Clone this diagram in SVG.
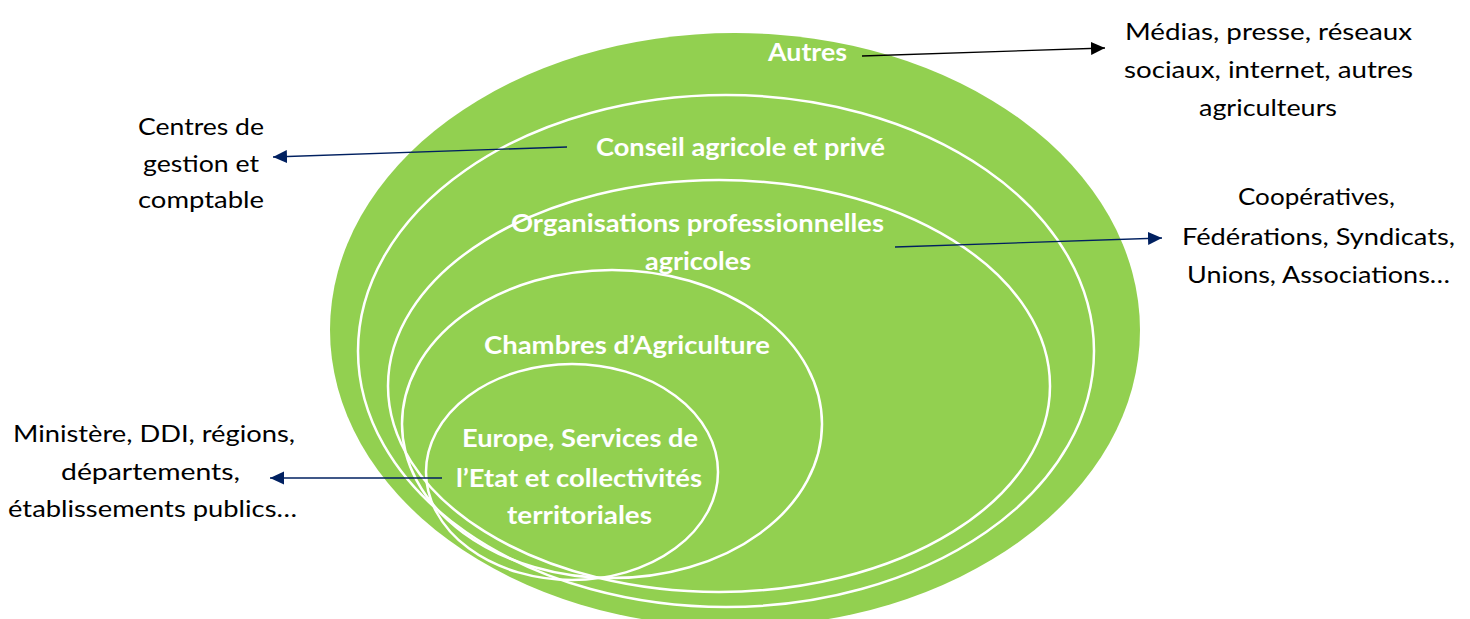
<svg xmlns="http://www.w3.org/2000/svg" width="1470" height="619" viewBox="0 0 1470 619">
<style>
.lbl{font-family:Lato,"Open Sans","Liberation Sans",sans-serif;font-size:24px;fill:#000;text-anchor:middle}
.in{font-family:Lato,"Open Sans","Liberation Sans",sans-serif;font-size:24px;font-weight:bold;fill:#fff;text-anchor:middle}
.ring{fill:none;stroke:#fff;stroke-width:2.5}
.con{fill:none;stroke-width:1.3}
</style>
<defs>
<marker id="ahNavy" markerUnits="userSpaceOnUse" markerWidth="16" markerHeight="14" refX="14" refY="6.5" orient="auto">
<path d="M0,0 L14,6.5 L0,13 Z" fill="#002060"/>
</marker>
<marker id="ahBlack" markerUnits="userSpaceOnUse" markerWidth="16" markerHeight="14" refX="14" refY="6.5" orient="auto">
<path d="M0,0 L14,6.5 L0,13 Z" fill="#000"/>
</marker>
</defs>
<rect width="1470" height="619" fill="#fff"/>
<g id="autres">
<ellipse cx="735" cy="330" rx="405" ry="297" fill="#92D050"/>
<text class="in" x="807.5" y="61" textLength="79" lengthAdjust="spacingAndGlyphs">Autres</text>
</g>
<g id="conseil">
<ellipse class="ring" cx="726" cy="351" rx="368" ry="256"/>
<text class="in" x="740.5" y="156" textLength="289" lengthAdjust="spacingAndGlyphs">Conseil agricole et privé</text>
</g>
<g id="organisations">
<ellipse class="ring" cx="719" cy="386" rx="331" ry="206"/>
<text class="in" x="697.5" y="232" textLength="373" lengthAdjust="spacingAndGlyphs">Organisations professionnelles</text>
<text class="in" x="698" y="270" textLength="106" lengthAdjust="spacingAndGlyphs">agricoles</text>
</g>
<g id="chambres">
<ellipse class="ring" cx="612" cy="424" rx="210" ry="154"/>
<text class="in" x="627" y="354" textLength="286" lengthAdjust="spacingAndGlyphs">Chambres d’Agriculture</text>
</g>
<g id="europe">
<ellipse class="ring" cx="572" cy="472" rx="146" ry="108"/>
<text class="in" x="580" y="447" textLength="236" lengthAdjust="spacingAndGlyphs">Europe, Services de</text>
<text class="in" x="579" y="487" textLength="246" lengthAdjust="spacingAndGlyphs">l’Etat et collectivités</text>
<text class="in" x="579.5" y="524" textLength="145" lengthAdjust="spacingAndGlyphs">territoriales</text>
</g>
<g id="medias">
<text class="lbl" x="1268.5" y="40" textLength="287" lengthAdjust="spacingAndGlyphs">Médias, presse, réseaux</text>
<text class="lbl" x="1268.5" y="78" textLength="289" lengthAdjust="spacingAndGlyphs">sociaux, internet, autres</text>
<text class="lbl" x="1268" y="116" textLength="138" lengthAdjust="spacingAndGlyphs">agriculteurs</text>
</g>
<g id="cooperatives">
<text class="lbl" x="1316.5" y="205" textLength="157" lengthAdjust="spacingAndGlyphs">Coopératives,</text>
<text class="lbl" x="1318.5" y="245" textLength="273" lengthAdjust="spacingAndGlyphs">Fédérations, Syndicats,</text>
<text class="lbl" x="1318.5" y="283" textLength="263" lengthAdjust="spacingAndGlyphs">Unions, Associations…</text>
</g>
<g id="centres">
<text class="lbl" x="201" y="135" textLength="126" lengthAdjust="spacingAndGlyphs">Centres de</text>
<text class="lbl" x="201" y="172" textLength="116" lengthAdjust="spacingAndGlyphs">gestion et</text>
<text class="lbl" x="201" y="208" textLength="126" lengthAdjust="spacingAndGlyphs">comptable</text>
</g>
<g id="ministere">
<text class="lbl" x="154" y="442" textLength="282" lengthAdjust="spacingAndGlyphs">Ministère, DDI, régions,</text>
<text class="lbl" x="150.5" y="480" textLength="179" lengthAdjust="spacingAndGlyphs">départements,</text>
<text class="lbl" x="152.5" y="517" textLength="289" lengthAdjust="spacingAndGlyphs">établissements publics…</text>
</g>
<g id="connectors">
<line class="con" x1="862" y1="56" x2="1105" y2="48" stroke="#000" marker-end="url(#ahBlack)"/>
<line class="con" x1="567" y1="147" x2="273" y2="157" stroke="#002060" marker-end="url(#ahNavy)"/>
<line class="con" x1="895" y1="247" x2="1162" y2="238" stroke="#002060" marker-end="url(#ahNavy)"/>
<line class="con" x1="442" y1="478" x2="270" y2="478" stroke="#002060" marker-end="url(#ahNavy)"/>
</g>
</svg>
